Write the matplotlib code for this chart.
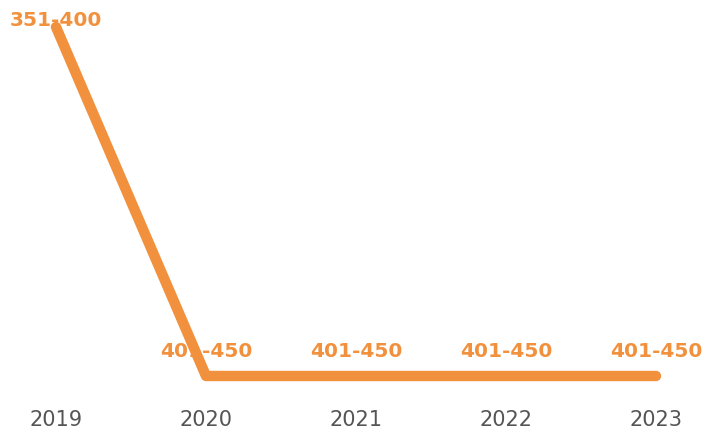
import matplotlib.pyplot as plt

years = ['2019', '2020', '2021', '2022', '2023']
rank_bands = ['351-400', '401-450', '401-450', '401-450', '401-450']
band_order = ['351-400', '401-450']

orange = '#F2913D'

fig = plt.figure(figsize=(7.12, 4.32), dpi=100)
ax = fig.add_axes([0, 36 / 432, 1, 1 - 36 / 432])

x = list(range(len(years)))
y = [band_order.index(b) for b in rank_bands]

ax.plot(x, y, color=orange, lw=7.5, solid_capstyle='round',
        solid_joinstyle='round', zorder=3)

# top label is pushed down so it stays inside the canvas
for xi, yi, lab in zip(x, y, rank_bands):
    off = -2 if yi == 0 else 11
    ax.annotate(lab, (xi, yi), xytext=(0, off), textcoords='offset points',
                ha='center', va='bottom', color=orange, fontsize=14.5,
                fontweight='bold', zorder=2, annotation_clip=False)

ax.set_xlim(-56 / 150, 4 + 56 / 150)
ax.set_ylim(1 + 20 / 349, -27 / 349)
ax.set_xticks(x)
ax.set_xticklabels(years)
ax.tick_params(axis='x', length=0, pad=10, labelsize=15, labelcolor='#555555')
ax.set_yticks([])
for s in ax.spines.values():
    s.set_visible(False)

fig.savefig('out.png', dpi=100)
